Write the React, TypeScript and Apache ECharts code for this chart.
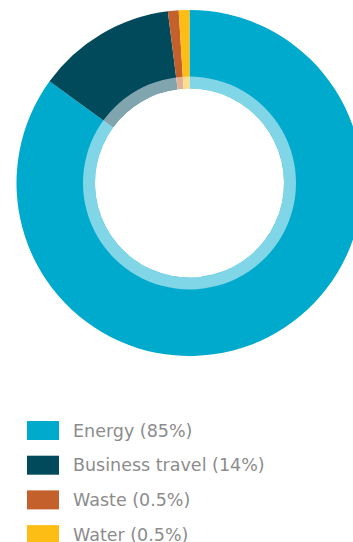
import React, { useEffect, useRef } from "react";
import * as echarts from "echarts";

const categories = ["Energy", "Business travel", "Waste", "Water"];
const legendLabels = ["Energy (85%)", "Business travel (14%)", "Waste (0.5%)", "Water (0.5%)"];
const values = [85, 13, 1, 1];
const colors = ["#00AACD", "#004A5C", "#C4602B", "#FDBD14"];

export default function App() {
  const ref = useRef<HTMLDivElement>(null);
  useEffect(() => {
    const chart = echarts.init(ref.current!, null, { renderer: "svg" });
    const labelMap: Record<string, string> = {};
    categories.forEach((c, i) => (labelMap[c] = legendLabels[i]));
    chart.setOption({
      animation: false,
      color: colors,
      legend: categories.map((c, i) => ({
        orient: "vertical",
        left: 27,
        top: 421 + i * 34.7,
        padding: 0,
        itemWidth: 32,
        itemHeight: 19,
        icon: "rect",
        data: [c],
        formatter: (n: string) => labelMap[n],
        selectedMode: false,
        textStyle: {
          color: "#8C8C8C",
          fontSize: 17.5,
          lineHeight: 14,
          fontFamily: "'DejaVu Sans', sans-serif",
          padding: [0, 0, 0, 9],
        },
      })),
      series: [
        {
          type: "pie",
          center: [189.5, 183],
          radius: [94.5, 173],
          startAngle: 90,
          clockwise: true,
          label: { show: false },
          labelLine: { show: false },
          itemStyle: { borderWidth: 0 },
          emphasis: { disabled: true },
          data: categories.map((c, i) => ({ name: c, value: values[i] })),
        },
        {
          type: "pie",
          center: [189.5, 183],
          radius: [94.5, 106.5],
          silent: true,
          z: 3,
          label: { show: false },
          labelLine: { show: false },
          itemStyle: { color: "rgba(255,255,255,0.5)", borderWidth: 0 },
          emphasis: { disabled: true },
          data: [{ name: "ring", value: 1 }],
        },
      ],
    });
    return () => chart.dispose();
  }, []);
  return (
    <div
      ref={ref}
      style={{ position: "absolute", left: 0, top: 0, width: 353, height: 542 }}
    />
  );
}
